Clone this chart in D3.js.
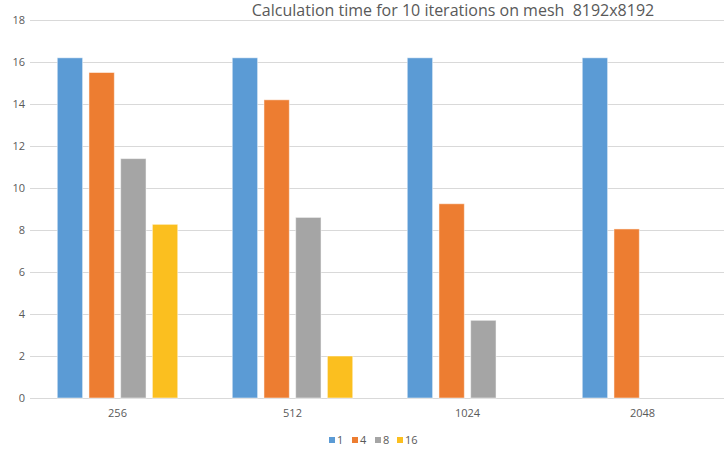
<!DOCTYPE html>
<html>
<head>
  <meta charset="utf-8">
  <title>Calculation time</title>
  <script src="https://d3js.org/d3.v7.min.js"></script>
  <style>
    body { margin: 0; background: #fff; }
    text { font-family: "Open Sans", "Noto Sans", sans-serif; fill: #595959; }
  </style>
</head>
<body>
<svg width="724" height="450"></svg>
<script>
// mesh block sizes on the x axis
var categories = ["256", "512", "1024", "2048"]
// number of threads / processes
var series = ["1", "4", "8", "16"]
// times per category, one entry per series (null = no bar)
var values1 = [16.2, 16.2, 16.2, 16.2]
var values4 = [15.5, 14.2, 9.25, 8.05]
var values8 = [11.4, 8.6, 3.7, null]
var values16 = [8.27, 2.0, null, null]
var yTicks = [0, 2, 4, 6, 8, 10, 12, 14, 16, 18]
var colors = ["#5B9BD5", "#ED7D31", "#A5A5A5", "#FBBF1F"]

var table = [values1, values4, values8, values16]
var data = categories.map(function (c, i) {
  return { cat: c, bars: series.map(function (s, j) { return { s: s, v: table[j][i] } }) }
})

var svg = d3.select("svg")

var x0 = d3.scaleBand().domain(categories).range([30, 730])
var x1 = d3.scaleBand().domain(series).range([0, x0.bandwidth()])
  .paddingInner(0.2).paddingOuter(0.86)
var y = d3.scaleLinear().domain([0, 18]).range([398, 20])
var color = d3.scaleOrdinal().domain(series).range(colors)

// gridlines
svg.append("g")
  .selectAll("line")
  .data(yTicks)
  .enter().append("line")
    .attr("x1", 30)
    .attr("x2", 724)
    .attr("y1", function (d) { return y(d) + 0.5 })
    .attr("y2", function (d) { return y(d) + 0.5 })
    .attr("stroke", "#d9d9d9")
    .attr("stroke-width", 1)

// y axis labels
var yAxis = d3.axisLeft(y).tickValues(yTicks).tickSize(0).tickPadding(0)
svg.append("g")
  .attr("transform", "translate(25,0)")
  .call(yAxis)
  .call(function (g) { g.select(".domain").remove() })
  .selectAll("text")
    .attr("font-size", 11)
    .attr("fill", "#595959")
    .style("font-family", "'Open Sans', sans-serif")

// bars
svg.append("g")
  .selectAll("g")
  .data(data)
  .enter().append("g")
    .attr("transform", function (d) { return "translate(" + x0(d.cat) + ",0)" })
  .selectAll("rect")
  .data(function (d) { return d.bars.filter(function (b) { return b.v != null }) })
  .enter().append("rect")
    .attr("x", function (b) { return x1(b.s) })
    .attr("width", x1.bandwidth())
    .attr("y", function (b) { return y(b.v) })
    .attr("height", function (b) { return y(0) - y(b.v) })
    .attr("fill", function (b) { return color(b.s) })
    .attr("stroke", "#ffffff")
    .attr("stroke-opacity", 0.5)
    .attr("stroke-width", 1)

// x axis labels
var xAxis = d3.axisBottom(x0).tickSize(0).tickPadding(0)
svg.append("g")
  .attr("transform", "translate(0,409)")
  .call(xAxis)
  .call(function (g) { g.select(".domain").remove() })
  .selectAll("text")
    .attr("font-size", 11)
    .attr("fill", "#595959")
    .style("font-family", "'Open Sans', sans-serif")

// title
svg.append("text")
  .attr("x", 453)
  .attr("y", 16)
  .attr("text-anchor", "middle")
  .attr("font-size", 16)
  .style("white-space", "pre")
  .text("Calculation time for 10 iterations on mesh  8192x8192")

// legend
var legendX = [329, 352, 375, 397]
var legend = svg.append("g")
  .selectAll("g")
  .data(series)
  .enter().append("g")
    .attr("transform", function (d, i) { return "translate(" + legendX[i] + ",437)" })
legend.append("rect")
  .attr("width", 6)
  .attr("height", 6)
  .attr("fill", function (d) { return color(d) })
legend.append("text")
  .attr("x", 8)
  .attr("y", 7)
  .attr("font-size", 11)
  .text(function (d) { return d })
</script>
</body>
</html>
